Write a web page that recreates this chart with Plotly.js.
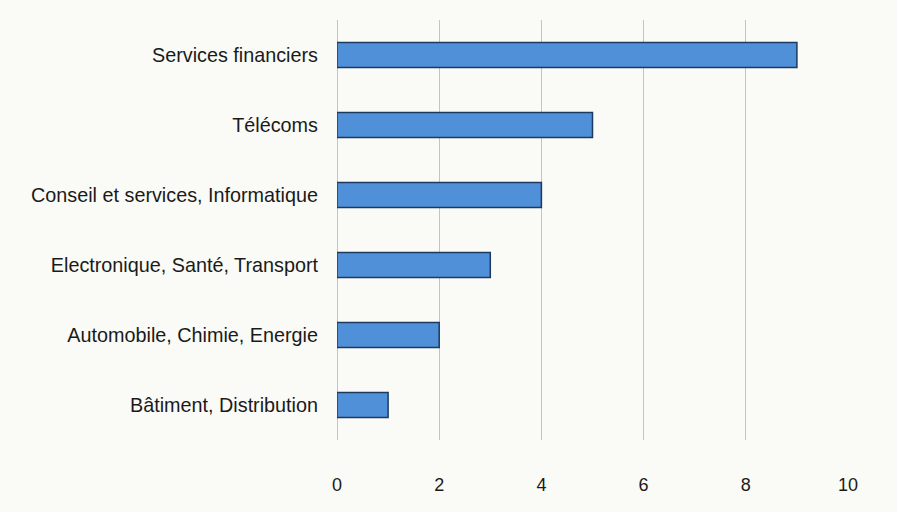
<!DOCTYPE html>
<html>
<head>
<meta charset="utf-8">
<script src="https://cdn.plot.ly/plotly-3.0.1.min.js"></script>
<style>
  html, body { margin: 0; padding: 0; background: #fafaf7; }
  #graph { width: 897px; height: 512px; }
</style>
</head>
<body>
<div id="graph"></div>
<script>
// secteurs, du haut vers le bas
var secteurs = [
    'Services financiers',
    'Télécoms',
    'Conseil et services, Informatique',
    'Electronique, Santé, Transport',
    'Automobile, Chimie, Energie',
    'Bâtiment, Distribution'
];
var valeurs = [9, 5, 4, 3, 2, 1];
var ticksX = [0, 2, 4, 6, 8, 10];

var trace = {
    type: 'bar',
    orientation: 'h',
    x: valeurs,
    y: secteurs,
    marker: {
        color: '#4f90d8',
        line: { color: '#1c3a60', width: 1.5 }
    },
    hoverinfo: 'x+y'
};

var layout = {
    width: 897,
    height: 512,
    margin: { l: 337, r: 49, t: 20, b: 72 },
    paper_bgcolor: '#fafaf7',
    plot_bgcolor: '#fafaf7',
    showlegend: false,
    bargap: 0.64,
    font: { family: 'Liberation Sans, Arial, sans-serif', size: 19, color: '#1a1a1a' },
    xaxis: {
        range: [0, 10],
        tickvals: ticksX,
        ticktext: ticksX.map(String),
        showgrid: true,
        gridcolor: '#c4c4c4',
        gridwidth: 1,
        zeroline: true,
        zerolinecolor: '#c4c4c4',
        zerolinewidth: 1,
        showline: false,
        ticks: '',
        ticklabelstandoff: 32,
        tickfont: { size: 18, color: '#1a1a1a' },
        fixedrange: true
    },
    yaxis: {
        type: 'category',
        autorange: 'reversed',
        showgrid: false,
        zeroline: false,
        showline: false,
        ticks: '',
        ticklabelstandoff: 18,
        tickfont: { size: 19.8, color: '#1a1a1a' },
        fixedrange: true
    }
};

Plotly.newPlot('graph', [trace], layout, { displayModeBar: false, staticPlot: true });
</script>
</body>
</html>
